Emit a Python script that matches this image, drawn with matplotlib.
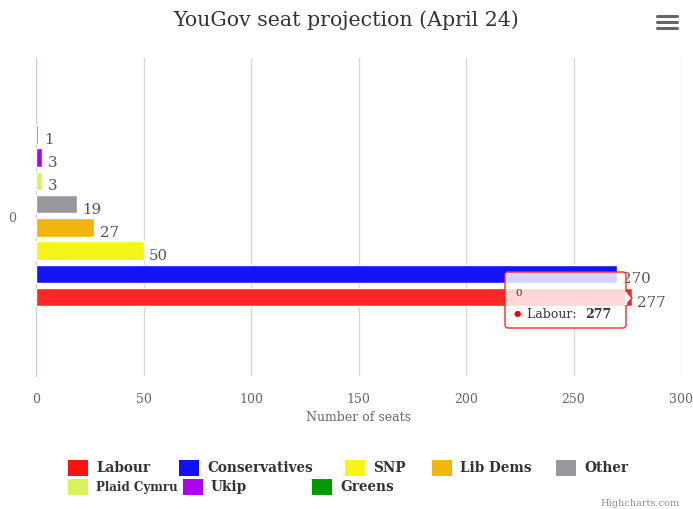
import numpy as np
import matplotlib.pyplot as plt
from matplotlib.patches import Rectangle, FancyBboxPatch, Polygon
from matplotlib.transforms import Affine2D

parties = ["Labour", "Conservatives", "SNP", "Lib Dems", "Other", "Plaid Cymru", "Ukip", "Greens"]
seats = [277, 270, 50, 27, 19, 3, 3, 1]
colors = ["#ff2626", "#1414f5", "#f5f518", "#f2b50c", "#98979c", "#d8f25a", "#b000f0", "#0e9a0e"]
legend_colors = ["#ff1010", "#1010ff", "#f5f518", "#f2b50c", "#98979c", "#d8f25a", "#b000f0", "#009900"]
category = "0"
xticks = [0, 50, 100, 150, 200, 250, 300]

plt.rcParams["font.family"] = ["DejaVu Serif"]
fig = plt.figure(figsize=(6.93, 5.09), dpi=100)
W, H = 693, 509
# pixel coordinates measured from top-left
pix = Affine2D().scale(1 / 100).scale(1, -1).translate(0, H / 100) + fig.dpi_scale_trans

ax = fig.add_axes([36 / W, 1 - 376 / H, 645 / W, 318 / H])
n = len(parties)
slot = 0.585 / n
ypos = 0.004 - 0.2925 + slot * (np.arange(n) + 0.5)
ax.barh(ypos, seats, height=slot * 0.8, color=colors, edgecolor="white", linewidth=1, zorder=3)
for y, v in zip(ypos, seats):
    ax.annotate(str(v), (v, y), xytext=(4, -4), textcoords="offset points",
                va="center", ha="left", fontsize=10.8, color="#555555", zorder=4)

ax.set_xlim(0, 300)
ax.set_ylim(-0.5, 0.5)
ax.set_xticks(xticks)
ax.set_xticklabels([str(t) for t in xticks], fontsize=9, color="#666666")
ax.set_yticks([0])
ax.set_yticklabels([category], fontsize=9, color="#666666")
ax.tick_params(axis="x", length=0, pad=12)
ax.tick_params(axis="y", length=0, pad=14)
ax.grid(axis="x", color="#d8d8d8", linewidth=1, zorder=0)
for s in ["top", "right", "bottom"]:
    ax.spines[s].set_visible(False)
ax.spines["left"].set_color("#c0d0e0")
ax.set_xlabel("Number of seats", fontsize=9, color="#666666", labelpad=4)

fig.text(346 / W, 1 - 20 / H, "YouGov seat projection (April 24)", ha="center", va="center",
         fontsize=14.8, color="#333333")

# menu icon
for yy in [16, 22, 28]:
    fig.add_artist(plt.Line2D([657, 677], [yy, yy], transform=pix, color="#666666",
                              linewidth=2.2, solid_capstyle="round"))

# tooltip
fig.add_artist(FancyBboxPatch((505, 272), 121, 56, boxstyle="round,pad=0,rounding_size=3",
                              transform=pix, facecolor="white", alpha=0.82, edgecolor="none", zorder=5))
fig.add_artist(FancyBboxPatch((505, 272), 121, 56, boxstyle="round,pad=0,rounding_size=3",
                              transform=pix, facecolor="none", edgecolor="#ff2626", linewidth=1, zorder=6))
fig.add_artist(Polygon([[626, 291], [632, 298], [626, 305]], closed=True, transform=pix,
                       facecolor="white", edgecolor="#ff2626", linewidth=1, zorder=6))
fig.add_artist(Rectangle((624.5, 291.5), 2, 13, transform=pix, facecolor="white", edgecolor="none", zorder=7))
fig.text(515 / W, 1 - 294 / H, "0", fontsize=7.5, color="#333333", va="center", zorder=8)
fig.text(514 / W, 1 - 314 / H, "●", fontsize=6, color="#ff0000", va="center", zorder=8)
fig.text(527 / W, 1 - 314 / H, "Labour: ", fontsize=9, color="#333333", va="center", zorder=8)
fig.text(585 / W, 1 - 314 / H, "277", fontsize=9, color="#333333", va="center", weight="bold", zorder=8)

# legend
legend_pos = [(68, 468), (179, 468), (345, 468), (432, 468), (556, 468),
              (68, 487), (183, 487), (312, 487)]
for name, c, (lx, ly) in zip(parties, legend_colors, legend_pos):
    fig.add_artist(Rectangle((lx, ly - 8), 20, 16, transform=pix, facecolor=c, edgecolor="none"))
    fs = 8.6 if name == "Plaid Cymru" else 9.8
    fig.text((lx + 28) / W, 1 - ly / H, name, fontsize=fs, weight="bold", color="#333333", va="center")

fig.text(680 / W, 1 - 503 / H, "Highcharts.com", ha="right", va="center", fontsize=7, color="#909090")

fig.savefig("out.png", dpi=100)
